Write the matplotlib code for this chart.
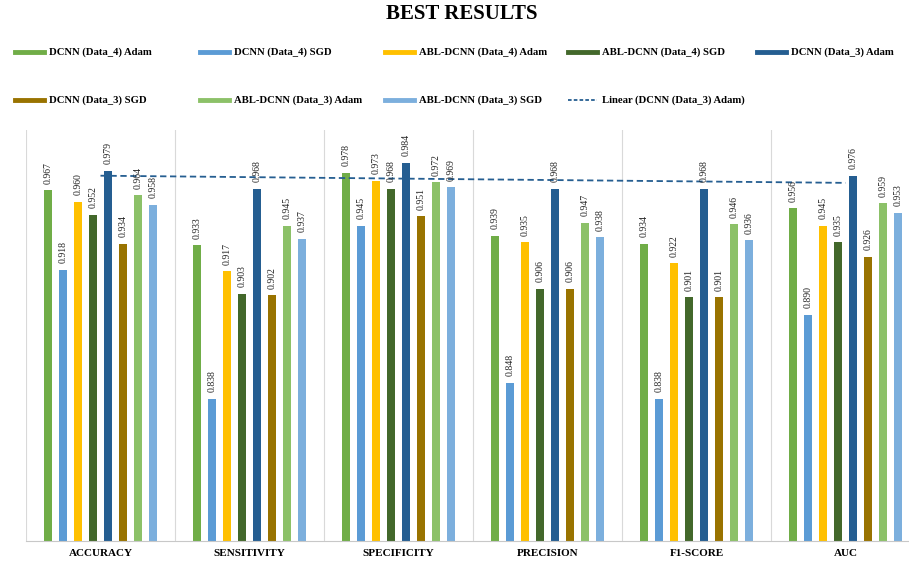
import numpy as np
import matplotlib.pyplot as plt
from matplotlib.lines import Line2D

plt.rcParams['font.family'] = ['Liberation Serif', 'DejaVu Serif']

categories = ["ACCURACY", "SENSITIVITY", "SPECIFICITY", "PRECISION", "F1-SCORE", "AUC"]
series_names = [
    "DCNN (Data_4) Adam",
    "DCNN (Data_4) SGD",
    "ABL-DCNN (Data_4) Adam",
    "ABL-DCNN (Data_4) SGD",
    "DCNN (Data_3) Adam",
    "DCNN (Data_3) SGD",
    "ABL-DCNN (Data_3) Adam",
    "ABL-DCNN (Data_3) SGD",
]
trend_name = "Linear (DCNN (Data_3) Adam)"
dcnn4_adam = [0.967, 0.933, 0.978, 0.939, 0.934, 0.956]
dcnn4_sgd = [0.918, 0.838, 0.945, 0.848, 0.838, 0.890]
abl4_adam = [0.960, 0.917, 0.973, 0.935, 0.922, 0.945]
abl4_sgd = [0.952, 0.903, 0.968, 0.906, 0.901, 0.935]
dcnn3_adam = [0.979, 0.968, 0.984, 0.968, 0.968, 0.976]
dcnn3_sgd = [0.934, 0.902, 0.951, 0.906, 0.901, 0.926]
abl3_adam = [0.964, 0.945, 0.972, 0.947, 0.946, 0.959]
abl3_sgd = [0.958, 0.937, 0.969, 0.938, 0.936, 0.953]
series = [dcnn4_adam, dcnn4_sgd, abl4_adam, abl4_sgd,
          dcnn3_adam, dcnn3_sgd, abl3_adam, abl3_sgd]

colors = ["#70AD47", "#5B9BD5", "#FFC000", "#43682B",
          "#255E91", "#997300", "#8CC168", "#7CAFDD"]

W, H = 909, 562
fig = plt.figure(figsize=(W / 100, H / 100), dpi=100)

# axes placed in pixels: left 26, bottom 541, top 130, 149 px per group
left, bottom, top = 26, 541, 130
ax = fig.add_axes([left / W, (H - bottom) / H, (W - left) / W, (bottom - top) / H])

x = np.arange(len(categories))
pitch = 0.1
width = 0.054
for i, (vals, c, name) in enumerate(zip(series, colors, series_names)):
    pos = x + (i - 3.5) * pitch
    ax.bar(pos, vals, width, color=c, label=name, zorder=2)
    for p, v in zip(pos, vals):
        ax.text(p, v + 0.004, f"{v:.3f}", rotation=90, ha="center", va="bottom",
                fontsize=7, color="#222222", zorder=4)

# linear trendline of DCNN (Data_3) Adam
coef = np.polyfit(x, dcnn3_adam, 1)
trend = np.polyval(coef, x)
ax.plot(x, trend, ls=(0, (3.5, 2)), color="#255E91", lw=1.3, zorder=3)

ax.set_ylim(0.75, 0.75 + (bottom - top) / 1616)
ax.set_xlim(-0.5, -0.5 + (W - left) / 149)

for b in np.arange(-0.5, 6, 1):
    ax.axvline(b, color="#D9D9D9", lw=0.8, zorder=1)

for s in ["top", "right", "left"]:
    ax.spines[s].set_visible(False)
ax.spines["bottom"].set_color("#C8C8C8")
ax.set_yticks([])
ax.set_xticks(x, categories)
ax.tick_params(axis="x", length=0, pad=6, labelsize=8)
for t in ax.get_xticklabels():
    t.set_fontweight("bold")

fig.text(462 / W, 1 - 14 / H, "BEST RESULTS", ha="center", va="center",
         fontsize=15, fontweight="bold")

# legend entries laid out like the original (two rows, five columns)
leg_labels = series_names + [trend_name]
leg_x = [15, 200, 385, 568, 757, 15, 200, 385, 568]
leg_y = [52] * 5 + [100] * 4
for k, (lab, lx, ly) in enumerate(zip(leg_labels, leg_x, leg_y)):
    yy = 1 - ly / H
    if k < 8:
        fig.add_artist(Line2D([lx / W, (lx + 29) / W], [yy, yy], color=colors[k],
                              lw=3.5, transform=fig.transFigure))
    else:
        fig.add_artist(Line2D([lx / W, (lx + 29) / W], [yy, yy], color="#255E91",
                              lw=1.3, ls=(0, (2, 1.2)), transform=fig.transFigure))
    fig.text((lx + 34) / W, yy, lab, ha="left", va="center", fontsize=7.7,
             fontweight="bold")

fig.savefig("out.png", dpi=100)
